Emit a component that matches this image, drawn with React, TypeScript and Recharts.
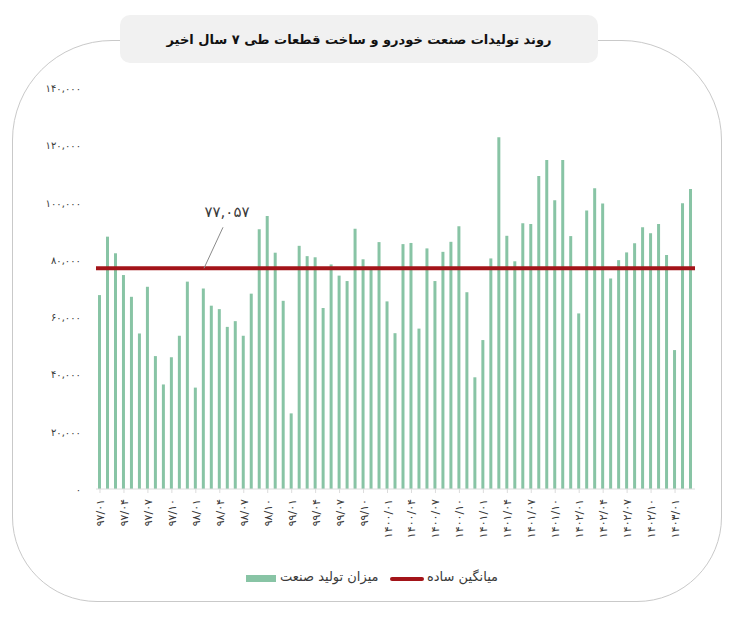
import React from 'react';
import { BarChart, Bar, XAxis, YAxis, ReferenceLine } from 'recharts';

const months = [
	'97/01', '97/02', '97/03', '97/04', '97/05', '97/06', '97/07', '97/08', '97/09', '97/10', '97/11', '97/12',
	'98/01', '98/02', '98/03', '98/04', '98/05', '98/06', '98/07', '98/08', '98/09', '98/10', '98/11', '98/12',
	'99/01', '99/02', '99/03', '99/04', '99/05', '99/06', '99/07', '99/08', '99/09', '99/10', '99/11', '99/12',
	'1400/01', '1400/02', '1400/03', '1400/04', '1400/05', '1400/06', '1400/07', '1400/08', '1400/09', '1400/10', '1400/11', '1400/12',
	'1401/01', '1401/02', '1401/03', '1401/04', '1401/05', '1401/06', '1401/07', '1401/08', '1401/09', '1401/10', '1401/11', '1401/12',
	'1402/01', '1402/02', '1402/03', '1402/04', '1402/05', '1402/06', '1402/07', '1402/08', '1402/09', '1402/10', '1402/11', '1402/12',
	'1403/01', '1403/02', '1403/03'
];

const production = [
	67700, 88100, 82300, 74700, 67100, 54300, 70600, 46400, 36500, 46000, 53500, 72400,
	35400, 70000, 64000, 62800, 56600, 58600, 53500, 68200, 90700, 95300, 82500, 65700,
	26400, 84900, 81300, 80900, 63200, 78400, 74500, 72600, 90900, 80200, 76500, 86200,
	65500, 54400, 85500, 85900, 56000, 84000, 72600, 82800, 86300, 91700, 68700, 39000,
	52000, 80500, 122800, 88400, 79500, 92800, 92500, 109300, 114900, 100800, 114900, 88300,
	61300, 97200, 105000, 99700, 73500, 79900, 82600, 85800, 91400, 89300, 92500, 81700,
	48500, 99800, 104700
];

const average = 77057;
const yTicks = [0, 20000, 40000, 60000, 80000, 100000, 120000, 140000];

const title = 'روند تولیدات صنعت خودرو و ساخت قطعات طی ۷ سال اخیر';
const barName = 'میزان تولید صنعت';
const avgName = 'میانگین ساده';

const green = '#88c4a5';
const red = '#a31419';
const ink = '#3a3a3a';
const font = '"DejaVu Sans", sans-serif';

const data = months.map((m, i) => ({ month: m, value: production[i] }));

const faDigits = (s: string) => s.replace(/\d/g, (d) => '۰۱۲۳۴۵۶۷۸۹'[+d]);
const faNumber = (n: number) => faDigits(n.toLocaleString('en-US'));

const MonthTick = ({ x, y, payload }: any) => (
	<text
		x={x}
		y={y}
		transform={`rotate(-90 ${x} ${y})`}
		textAnchor="end"
		dx={-4}
		dy={4}
		fontSize={11}
		fill={ink}
		fontFamily={font}
	>
		{faDigits(payload.value)}
	</text>
);

const ValueTick = ({ x, y, payload }: any) => (
	<text x={x - 7} y={y} dy={4} textAnchor="end" fontSize={10} fill={ink} fontFamily={font}>
		{faNumber(payload.value)}
	</text>
);

const AvgLabel = ({ viewBox }: any) => {
	const { x, y } = viewBox;
	return (
		<g>
			<line x1={x + 108} y1={y} x2={x + 127} y2={y - 41} stroke="#8a8a8a" strokeWidth={1} />
			<text x={x + 131} y={y - 51} textAnchor="middle" fontSize={15} fill={ink} fontFamily={font}>
				{faNumber(average)}
			</text>
		</g>
	);
};

export default function App() {
	return (
		<div style={{ position: 'relative', width: 735, height: 619, margin: -8, background: '#fff', fontFamily: font }}>
			<div
				style={{
					position: 'absolute',
					left: 12,
					top: 40,
					width: 710,
					height: 562,
					boxSizing: 'border-box',
					border: '1.5px solid #c9c9c9',
					borderRadius: '100px 100px 85px 85px'
				}}
			/>
			<div
				style={{
					position: 'absolute',
					left: 120,
					top: 15,
					width: 478,
					height: 48,
					background: '#f1f1f1',
					borderRadius: 10,
					display: 'flex',
					alignItems: 'center',
					justifyContent: 'center',
					direction: 'rtl',
					fontWeight: 'bold',
					fontSize: 13,
					color: '#111'
				}}
			>
				{title}
			</div>

			<div style={{ position: 'absolute', left: 0, top: 0 }}>
				<BarChart width={735} height={619} data={data} margin={{ top: 88, right: 40, bottom: 100, left: 36 }}>
					<XAxis
						dataKey="month"
						height={30}
						interval={2}
						tick={<MonthTick />}
						axisLine={{ stroke: '#dcdcdc' }}
						tickLine={{ stroke: '#dcdcdc' }}
						tickSize={4}
					/>
					<YAxis
						width={60}
						domain={[0, 140000]}
						ticks={yTicks}
						axisLine={false}
						tickLine={false}
						tick={<ValueTick />}
					/>
					<Bar dataKey="value" name={barName} fill={green} barSize={3} isAnimationActive={false} />
					<ReferenceLine y={average} stroke={red} strokeWidth={4} label={<AvgLabel />} />
				</BarChart>
			</div>

			<div style={{ position: 'absolute', left: 246, top: 575, width: 30, height: 7, background: green }} />
			<div style={{ position: 'absolute', left: 280, top: 569, fontSize: 13, color: ink, direction: 'rtl', whiteSpace: 'nowrap' }}>
				{barName}
			</div>
			<div style={{ position: 'absolute', left: 390, top: 577, width: 34, height: 4, background: red, borderRadius: 2 }} />
			<div style={{ position: 'absolute', left: 427, top: 569, fontSize: 13, color: ink, direction: 'rtl', whiteSpace: 'nowrap' }}>
				{avgName}
			</div>
		</div>
	);
}
